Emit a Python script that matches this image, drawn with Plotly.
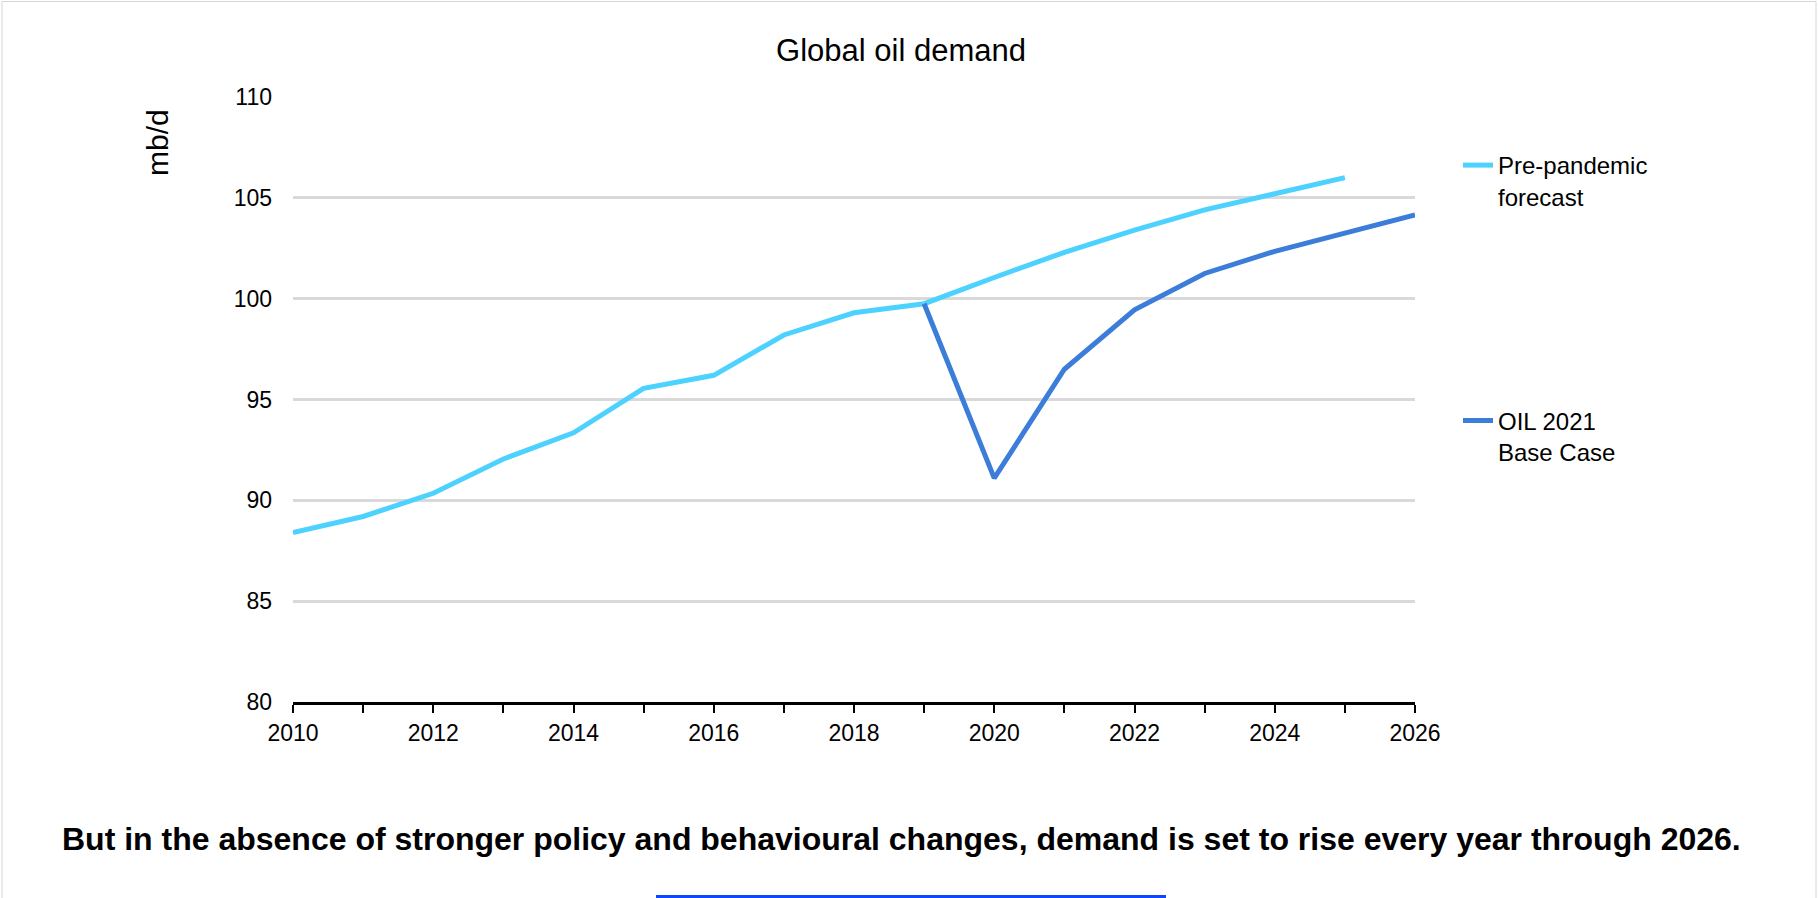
import plotly.graph_objects as go

# data (mb/d)
years_pre = list(range(2010, 2026))
pre_pandemic = [88.4, 89.2, 90.35, 92.05, 93.35, 95.55, 96.2, 98.2, 99.3, 99.75,
                101.05, 102.3, 103.4, 104.4, 105.2, 106.0]

years_base = list(range(2019, 2027))
base_case = [99.75, 91.1, 96.5, 99.45, 101.25, 102.35, 103.25, 104.15]

x_ticks = list(range(2010, 2027, 2))
y_ticks = [80, 85, 90, 95, 100, 105, 110]

colors = {
    'pre': '#4DD2FF',
    'base': '#3B7DD8',
    'grid': '#D9D9D9',
    'bar': '#0A47FF',
}
font_family = "Liberation Sans, Arial, sans-serif"

# plot area in pixels
W, H = 1818, 898
L, R, T, B = 293, 403, 97, 196
pw, ph = W - L - R, H - T - B


def px(x):
    return (x - L) / pw


def py(y):
    return 1 - (y - T) / ph


fig = go.Figure()
fig.add_trace(go.Scatter(
    x=years_pre, y=pre_pandemic, mode='lines', name='Pre-pandemic<br>forecast',
    line=dict(color=colors['pre'], width=5), legendgroup='a'
))
fig.add_trace(go.Scatter(
    x=years_base, y=base_case, mode='lines', name='OIL 2021<br>Base Case',
    line=dict(color=colors['base'], width=5), legendgroup='b'
))

fig.update_layout(
    width=W, height=H,
    margin=dict(l=L, r=R, t=T, b=B, autoexpand=False),
    plot_bgcolor='white', paper_bgcolor='white',
    font=dict(family=font_family, size=23, color='black'),
    title=dict(text='Global oil demand', x=0.4956, xref='container', xanchor='center',
               y=1 - 50 / H, yref='container', yanchor='middle',
               font=dict(size=31, color='black')),
    showlegend=True,
    legend=dict(x=px(1458), y=py(143), xanchor='left', yanchor='top',
                font=dict(size=24), valign='top', tracegroupgap=190,
                bgcolor='rgba(0,0,0,0)'),
    xaxis=dict(range=[2010, 2026], tickvals=x_ticks, showgrid=False,
               showline=True, linecolor='black', linewidth=3,
               ticks='outside', ticklen=8, tickwidth=2, tickcolor='black',
               minor=dict(ticks='outside', dtick=1, ticklen=8, tickwidth=2, tickcolor='black'),
               zeroline=False, tickfont=dict(size=23)),
    yaxis=dict(range=[80, 110], tickvals=y_ticks, showgrid=True,
               gridcolor=colors['grid'], gridwidth=2.5, showline=False,
               zeroline=False, ticklabelstandoff=20, tickfont=dict(size=23)),
    annotations=[
        dict(text='mb/d', xref='paper', yref='paper', x=px(157), y=py(143),
             textangle=-90, showarrow=False, font=dict(size=30),
             xanchor='center', yanchor='middle'),
        dict(text='<b>But in the absence of stronger policy and behavioural changes, '
                  'demand is set to rise every year through 2026.</b>',
             xref='paper', yref='paper', x=px(901), y=py(839),
             showarrow=False, font=dict(size=32), xanchor='center', yanchor='middle'),
    ],
    shapes=[
        dict(type='rect', xref='paper', yref='paper', x0=px(2), x1=px(1816),
             y0=py(910), y1=py(1.5), line=dict(color='#D6D6D6', width=1),
             fillcolor='rgba(0,0,0,0)', layer='below'),
        dict(type='rect', xref='paper', yref='paper', x0=px(656), x1=px(1166),
             y0=py(900), y1=py(895), line=dict(width=0), fillcolor=colors['bar']),
    ],
)

fig.write_html("out.html", config={'displayModeBar': False},
               post_script="document.body.style.margin='0';")
